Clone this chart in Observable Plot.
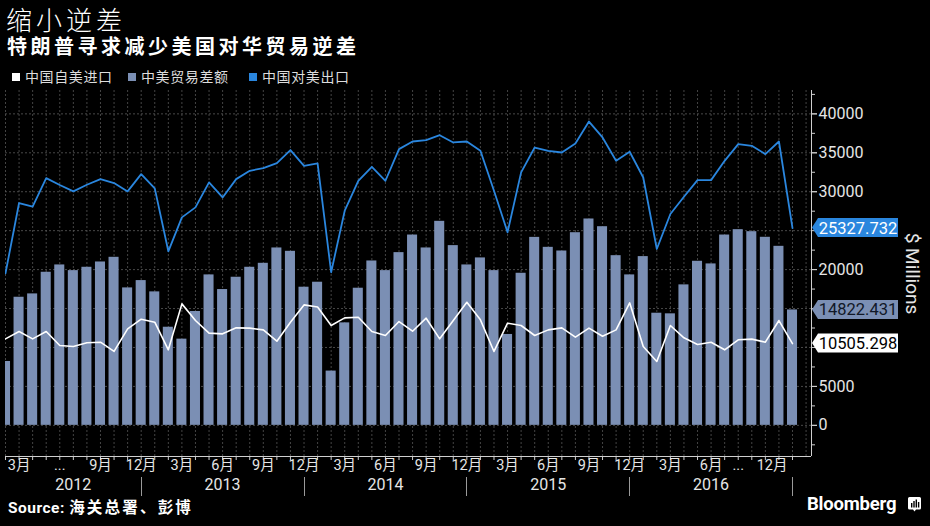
<!DOCTYPE html>
<html>
<head>
<meta charset="utf-8">
<script src="https://cdn.jsdelivr.net/npm/d3@7"></script>
<script src="https://cdn.jsdelivr.net/npm/@observablehq/plot@0.6"></script>
<style>
  html, body { margin: 0; padding: 0; background: #000; }
  #root { position: relative; width: 930px; height: 526px; background: #000; overflow: hidden;
          font-family: Roboto, "Noto Sans CJK SC", sans-serif; color: #fff; }
  .title { position: absolute; left: 6px; top: 8px; font-family: "Liberation Sans", "Noto Sans CJK SC", sans-serif;
           font-weight: 300; font-size: 26px; line-height: 26px; letter-spacing: 4px; white-space: nowrap; }
  .subtitle { position: absolute; left: 7px; top: 37px; font-family: "Liberation Sans", "Noto Sans CJK SC", sans-serif;
           font-weight: 700; font-size: 20px; line-height: 20px; letter-spacing: 3.5px; white-space: nowrap; }
  .legend-item { position: absolute; top: 69px; font-family: "Noto Sans CJK SC", sans-serif; font-size: 14px;
           line-height: 14px; letter-spacing: 0.6px; color: #ddd; white-space: nowrap; }
  .legend-item .sw { display: inline-block; width: 8px; height: 8px; margin-right: 5px; vertical-align: 1px; }
  #chart { position: absolute; left: 0; top: 88px; }
  .source { position: absolute; left: 8px; top: 499px; font-weight: 700; font-size: 15.5px; line-height: 15px;
            letter-spacing: 0.5px; font-family: Roboto, "Noto Sans CJK SC", sans-serif; color: #fff; white-space: nowrap; }
  .source .cjk { font-family: "Noto Sans CJK SC", sans-serif; font-size: 15.5px; letter-spacing: 2.2px; }
  .logo { position: absolute; left: 807px; top: 495px; font-family: Roboto, sans-serif; font-weight: 700;
          font-size: 18.5px; line-height: 18px; letter-spacing: -0.2px; color: #fff; white-space: nowrap; }
  .logo svg { position: absolute; left: 101px; top: 2px; }
</style>
</head>
<body>
<div id="root">
  <div class="title">缩小逆差</div>
  <div class="subtitle">特朗普寻求减少美国对华贸易逆差</div>
  <div id="legend"></div>
  <div id="chart"></div>
  <div class="source">Source: <span class="cjk">海关总署、彭博</span></div>
  <div class="logo">Bloomberg<svg width="13" height="15" viewBox="0 0 13 15"><path d="M1.5,0 H11.5 A1.5,1.5 0 0 1 13,1.5 V11 A1.5,1.5 0 0 1 11.5,12.5 H8 L6.5,14.5 L5,12.5 H1.5 A1.5,1.5 0 0 1 0,11 V1.5 A1.5,1.5 0 0 1 1.5,0 Z" fill="#fff"/><rect x="3" y="6" width="1.4" height="4.5" fill="#000"/><rect x="5.3" y="4" width="1.4" height="6.5" fill="#000"/><rect x="7.6" y="2.5" width="1.4" height="8" fill="#000"/><rect x="9.9" y="5" width="1.4" height="5.5" fill="#000"/></svg></div>
</div>
<script>
// ---------- data (monthly, Feb 2012 – Dec 2016, $ millions) ----------
const months = d3.timeMonth.range(new Date(2012, 1, 1), new Date(2017, 0, 1)); // 59 months

// 中国对美出口 (China exports to US)
const exportsToUS = [
  19530, 28550, 28080, 31750, 30860, 30040, 30900, 31620, 31110, 30040, 32260,
  30430, 22350, 26710, 27990, 31200, 29270, 31620, 32690, 33030, 33680, 35350, 33330,
  33650, 19660, 27560, 31410, 33200, 31410, 35470, 36450, 36620, 37260, 36330, 36450,
  35260, 30130, 24790, 32480, 35680, 35260, 35040, 36200, 39010, 36970, 33970, 35130,
  31830, 22650, 27140, 29360, 31490, 31490, 33970, 36110, 35900, 34830, 36450, 25327.732
];
// 中国自美进口 (China imports from US)
const importsFromUS = [
  11110, 12050, 11110, 12050, 10260, 10130, 10600, 10680, 9490, 12390, 13630,
  13250, 9700, 15600, 13460, 11840, 11750, 12520, 12480, 12260, 10810, 13250, 15470,
  15200, 12820, 13800, 13890, 12050, 11540, 13330, 12090, 13760, 11110, 13460, 15810,
  13550, 9490, 13120, 12820, 11540, 12260, 12520, 11320, 12480, 11450, 12260, 15730,
  10130, 8210, 12820, 11240, 10380, 10680, 9700, 10990, 11070, 10680, 13460, 10505.298
];
// 中美贸易差额 (trade balance)
const tradeBalance = [
  8200, 16450, 16880, 19660, 20600, 19870, 20300, 20980, 21580, 17650, 18590,
  17140, 12600, 11070, 14620, 19320, 17440, 19020, 20300, 20810, 22780, 22350, 17740,
  18380, 6970, 13160, 17610, 21110, 19870, 22180, 24440, 22780, 26200, 23080, 20600,
  21500, 19870, 11670, 19530, 24140, 22860, 22390, 24740, 26500, 25510, 21790, 19320,
  21670, 14400, 14320, 18040, 21070, 20730, 24440, 25130, 24870, 24150, 22990, 14822.431
];

const seriesNames = ["中国自美进口", "中美贸易差额", "中国对美出口"];
const seriesColors = ["#ffffff", "#7b8fb4", "#2a86de"];

const yTicks = [0, 5000, 10000, 15000, 20000, 25000, 30000, 35000, 40000];
const yMinorTicks = [-2500, 2500, 7500, 12500, 17500, 22500, 27500, 32500, 37500, 42500];
const monthTickLabels = [
  ["2012-03", "3月"], ["2012-06", "..."], ["2012-09", "9月"], ["2012-12", "12月"],
  ["2013-03", "3月"], ["2013-06", "6月"], ["2013-09", "9月"], ["2013-12", "12月"],
  ["2014-03", "3月"], ["2014-06", "6月"], ["2014-09", "9月"], ["2014-12", "12月"],
  ["2015-03", "3月"], ["2015-06", "6月"], ["2015-09", "9月"], ["2015-12", "12月"],
  ["2016-03", "3月"], ["2016-06", "6月"], ["2016-08", "..."]
];
const lastMonthLabel = [["2016-12", "12月"]];
const yearLabels = ["2012", "2013", "2014", "2015", "2016"];

// ---------- build ----------
const key = d => d3.timeFormat("%Y-%m")(d);
const idxOf = new Map(months.map((d, k) => [key(d), k + 1]));
const rows = months.map((d, k) => ({
  i: k + 1, date: d,
  exp: exportsToUS[k], imp: importsFromUS[k], bal: tradeBalance[k]
}));
const tickRows = monthTickLabels.map(([m, t]) => ({ i: idxOf.get(m), t }));
const lastRows = lastMonthLabel.map(([m, t]) => ({ i: idxOf.get(m), t }));
const yearRows = yearLabels.map(y => {
  const ms = rows.filter(r => r.date.getFullYear() === +y).map(r => r.i);
  const a = d3.min(ms), b = d3.max(ms);
  return { y, mid: y === "2012" ? (a + b) / 2 : (a - 1 + b) / 2, end: b };
});
const xDomain = [1, rows.length + 1.4];

const n = rows.length;
const callouts = [
  { v: exportsToUS[n - 1], fill: seriesColors[2], text: "#ffffff" },
  { v: tradeBalance[n - 1], fill: seriesColors[1], text: "#111827" },
  { v: importsFromUS[n - 1], fill: seriesColors[0], text: "#000000" }
];
// tick labels hidden beneath the value callouts (as in the original)
const yLabelTicks = yTicks.filter(t => callouts.every(c => Math.abs(c.v - t) > 1500));

// legend
const legend = document.getElementById("legend");
const legendX = [12, 128, 249];
seriesNames.forEach((name, k) => {
  const el = document.createElement("div");
  el.className = "legend-item";
  el.style.left = legendX[k] + "px";
  el.innerHTML = `<span class="sw" style="background:${seriesColors[k]}"></span>${name}`;
  legend.appendChild(el);
});

const fontStack = 'Roboto, "Noto Sans CJK SC", sans-serif';
const halfBar = 0.37;

const plot = Plot.plot({
  width: 930,
  height: 410,
  marginLeft: 5,
  marginRight: 119,
  marginTop: 2,
  marginBottom: 42,
  style: { background: "transparent", color: "#e6e6e6", fontFamily: fontStack, fontSize: "16px", overflow: "visible" },
  x: { type: "linear", domain: xDomain },
  y: { domain: [-4000, 43000] },
  marks: [
    Plot.ruleY(yTicks, { stroke: "#5a5a5a", strokeWidth: 0.8, strokeDasharray: "2,2" }),
    Plot.ruleX(d3.range(1, n + 2), { stroke: "#555", strokeWidth: 0.8, strokeDasharray: "2,2" }),
    Plot.rectY(rows, { x1: d => d.i - halfBar, x2: d => d.i + halfBar, y: "bal", fill: seriesColors[1], clip: true }),
    Plot.line(rows, { x: "i", y: "imp", stroke: seriesColors[0], strokeWidth: 1.6, clip: true }),
    Plot.line(rows, { x: "i", y: "exp", stroke: seriesColors[2], strokeWidth: 1.8, clip: true }),
    Plot.ruleY([-4000], { stroke: "#cfcfcf", strokeWidth: 1 }),
    Plot.ruleX([xDomain[1]], { stroke: "#cfcfcf", strokeWidth: 1 }),
    Plot.axisX({ ticks: rows.map(r => r.i), tickSize: 4, tickFormat: () => "", stroke: "#cfcfcf" }),
    Plot.axisY({ anchor: "right", ticks: yTicks, tickSize: 5, tickFormat: () => "", stroke: "#cfcfcf" }),
    Plot.axisY({ anchor: "right", ticks: yLabelTicks, tickSize: 5, tickPadding: 2, fontSize: 16, tickFormat: d => String(d), stroke: "#cfcfcf", fill: "#e6e6e6" }),
    Plot.axisY({ anchor: "right", ticks: yMinorTicks, tickSize: 3, tickFormat: () => "", stroke: "#cfcfcf" }),
    Plot.text(tickRows, { x: "i", text: "t", frameAnchor: "bottom", dy: 13, fontSize: 14.5, fill: "#e6e6e6" }),
    Plot.text(lastRows, { x: "i", text: "t", frameAnchor: "bottom", dy: 13, dx: -5, textAnchor: "end", fontSize: 14.5, fill: "#e6e6e6" }),
    Plot.text(yearRows, { x: "mid", text: "y", frameAnchor: "bottom", dy: 33, fontSize: 16, fill: "#e6e6e6" }),
    (index, scales, values, dims) => {
      const g = d3.create("svg:g");
      const yb = dims.height - dims.marginBottom;
      for (const r of yearRows) {
        const x = Math.round(scales.x(r.end)) + 0.5;
        g.append("line").attr("x1", x).attr("x2", x).attr("y1", yb + 21).attr("y2", yb + 40)
          .attr("stroke", "#9a9a9a").attr("stroke-width", 1);
      }
      return g.node();
    },
    (index, scales, values, dims) => {
      const g = d3.create("svg:g");
      const xr = dims.width - dims.marginRight;
      for (const c of callouts) {
        const y = scales.y(c.v);
        g.append("path")
          .attr("d", `M${xr + 1},${y} L${xr + 7},${y - 9.5} H${xr + 87} V${y + 9.5} H${xr + 7} Z`)
          .attr("fill", c.fill);
        g.append("text").attr("x", xr + 47).attr("y", y).attr("dy", "0.36em")
          .attr("text-anchor", "middle").attr("fill", c.text).attr("font-size", 16.5)
          .attr("font-family", fontStack).text(String(c.v));
      }
      return g.node();
    },
    Plot.text(["$ Millions"], { frameAnchor: "right", dx: 101, rotate: 90, textAnchor: "middle", fontSize: 19, fill: "#e6e6e6" })
  ]
});
document.getElementById("chart").appendChild(plot);
</script>
</body>
</html>
